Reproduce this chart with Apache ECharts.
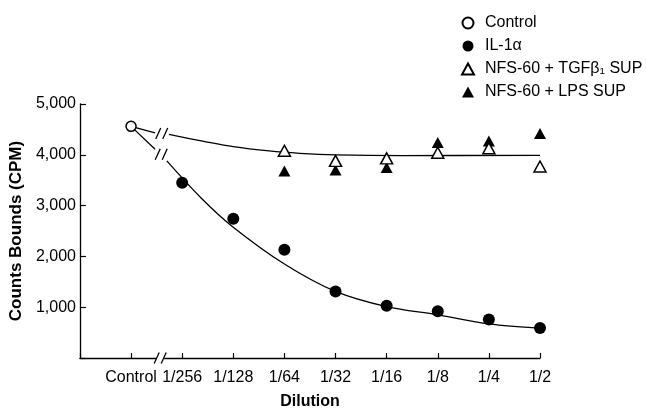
<!DOCTYPE html>
<html>
<head>
<meta charset="utf-8">
<script src="https://cdn.jsdelivr.net/npm/echarts@6/dist/echarts.min.js"></script>
<style>html,body{margin:0;padding:0;background:#fff;}#c{width:646px;height:415px;}</style>
</head>
<body>
<div id="c"></div>
<script>
// Category labels (x positions 0..8)
const categories = ['Control','1/256','1/128','1/64','1/32','1/16','1/8','1/4','1/2'];
const yTicks = [1000, 2000, 3000, 4000, 5000];

// Measured points: [categoryIndex, CPM]
const controlValues = [[0, 4560]];
const il1Values = [[1, 3450], [2, 2740], [3, 2130], [4, 1310], [5, 1030], [6, 920], [7, 760], [8, 590]];
const tgfValues = [[3, 4080], [4, 3880], [5, 3930], [6, 4040], [7, 4130], [8, 3770]];
const lpsValues = [[3, 3680], [4, 3700], [5, 3750], [6, 4240], [7, 4270], [8, 4420]];

// Fitted curves
const upperStub = [[0, 4560], [0.47, 4430]];
const upperCurve = [[0.74, 4400], [1.4, 4270], [2.0, 4160], [2.7, 4076], [3.3, 4030], [4.0, 4000], [5.3, 3985], [8, 3990]];
const lowerStub = [[0, 4560], [0.47, 4110]];
const lowerCurve = [[0.70, 3880], [1.38, 3140], [1.98, 2590], [3.0, 1850], [4.0, 1310], [5.0, 1010], [6.0, 850], [7.0, 670], [8, 587]];

// Axis-break marks: [x, y, isAxis]
const breakMarks = [[0.6, 4420, 0], [0.59, 4010, 0], [0.57, 0, 1]];

const chart = echarts.init(document.getElementById('c'), null, {renderer: 'canvas'});
const font = '"Liberation Sans", Arial, Helvetica, sans-serif';
const lineStyle = {color: '#000', width: 1.3};
const curve = (name, data) => ({
  name, type: 'line', data, smooth: 0.35, showSymbol: false, symbol: 'none',
  lineStyle, silent: true, z: 2
});

chart.setOption({
  animation: false,
  backgroundColor: '#fff',
  textStyle: {fontFamily: font, color: '#000'},
  grid: {left: 79, right: 106, top: 104, bottom: 53},
  legend: {
    data: ['Control', 'IL-1α', 'NFS-60 + TGFβ₁ SUP', 'NFS-60 + LPS SUP'],
    orient: 'vertical', left: 456, top: 10,
    itemWidth: 12, itemHeight: 11, itemGap: 7,
    textStyle: {fontFamily: font, fontSize: 16, lineHeight: 16, color: '#000', padding: [0, 0, 0, 6]}
  },
  xAxis: {
    type: 'value', min: -1, max: 8, interval: 1,
    name: 'Dilution', nameLocation: 'middle', nameGap: 36,
    nameTextStyle: {fontFamily: font, fontWeight: 'bold', fontSize: 16, color: '#000'},
    axisLine: {show: true, onZero: false, lineStyle: {color: '#000', width: 1.3}},
    axisTick: {show: true, inside: true, length: 5, lineStyle: {color: '#000', width: 1.2}},
    axisLabel: {
      margin: 12, fontSize: 16, color: '#000', fontFamily: font,
      formatter: v => (v >= 0 && v < categories.length) ? categories[v] : ''
    },
    splitLine: {show: false}
  },
  yAxis: {
    type: 'value', min: 0, max: 5000, interval: 1000,
    name: 'Counts Bounds (CPM)', nameLocation: 'middle', nameGap: 51, nameRotate: 90,
    nameTextStyle: {fontFamily: font, fontWeight: 'bold', fontSize: 17, color: '#000'},
    axisLine: {show: true, onZero: false, lineStyle: {color: '#000', width: 1.3}},
    axisTick: {show: true, inside: true, length: 6, lineStyle: {color: '#000', width: 1.2}},
    axisLabel: {
      margin: 4, fontSize: 16, color: '#000', fontFamily: font,
      formatter: v => yTicks.indexOf(v) >= 0 ? v.toLocaleString('en-US') : ''
    },
    splitLine: {show: false}
  },
  series: [
    curve('upperStub', upperStub),
    curve('upperCurve', upperCurve),
    curve('lowerStub', lowerStub),
    curve('lowerCurve', lowerCurve),
    {
      name: 'breaks', type: 'custom', data: breakMarks, clip: false, silent: true, z: 5,
      renderItem: (params, api) => {
        const p = api.coord([api.value(0), api.value(1)]);
        const isAxis = api.value(2) === 1;
        const children = [];
        if (isAxis) {
          children.push({type: 'rect', shape: {x: p[0] - 4, y: p[1] - 2, width: 8, height: 4}, style: {fill: '#fff'}});
        }
        [-3.5, 3.5].forEach(dx => {
          children.push({
            type: 'line',
            shape: {x1: p[0] + dx - 2.5, y1: p[1] + 5.5, x2: p[0] + dx + 2.5, y2: p[1] - 5.5},
            style: {stroke: '#000', lineWidth: 1.3}
          });
        });
        return {type: 'group', children};
      }
    },
    {
      name: 'Control', type: 'scatter', data: controlValues, symbol: 'circle', symbolSize: 10,
      itemStyle: {color: '#fff', borderColor: '#000', borderWidth: 1.5, opacity: 1}, z: 6
    },
    {
      name: 'IL-1α', type: 'scatter', data: il1Values, symbol: 'circle', symbolSize: 12,
      itemStyle: {color: '#000', borderColor: '#000', borderWidth: 0, opacity: 1}, z: 6
    },
    {
      name: 'NFS-60 + TGFβ₁ SUP', type: 'scatter', data: tgfValues, symbol: 'triangle', symbolSize: [12, 11],
      itemStyle: {color: '#fff', borderColor: '#000', borderWidth: 1.5, opacity: 1}, z: 7
    },
    {
      name: 'NFS-60 + LPS SUP', type: 'scatter', data: lpsValues, symbol: 'triangle', symbolSize: [12, 11],
      itemStyle: {color: '#000', borderColor: '#000', borderWidth: 0, opacity: 1}, z: 6
    }
  ]
});
</script>
</body>
</html>
